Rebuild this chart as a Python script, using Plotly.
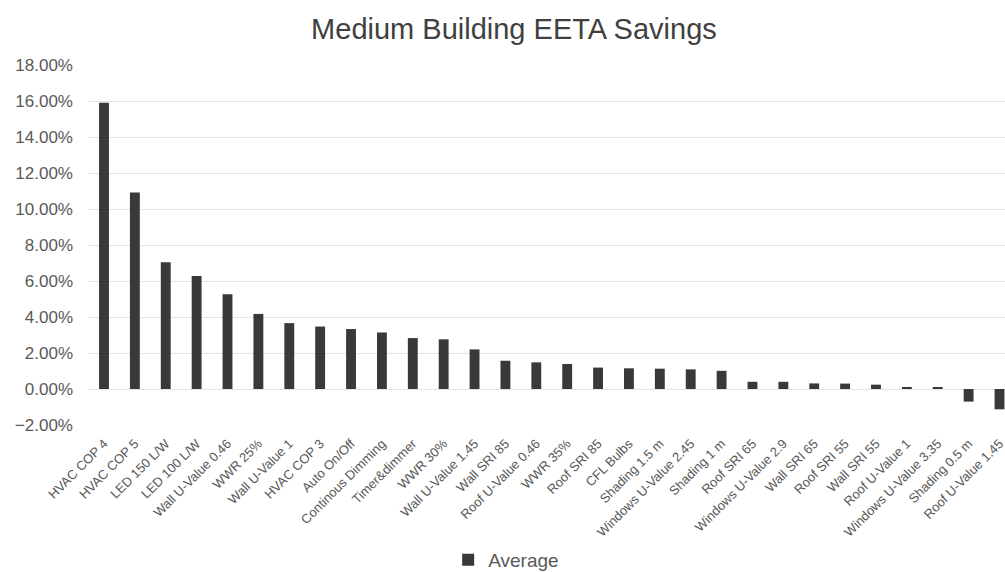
import plotly.graph_objects as go

categories = [
    "HVAC COP 4", "HVAC COP 5", "LED 150 L/W", "LED 100 L/W", "Wall U-Value 0.46",
    "WWR 25%", "Wall U-Value 1", "HVAC COP 3", "Auto On/Off", "Continous Dimming",
    "Timer&dimmer", "WWR 30%", "Wall U-Value 1.45", "Wall SRI 85", "Roof U-Value 0.46",
    "WWR 35%", "Roof SRI 85", "CFL Bulbs", "Shading 1.5 m", "Windows U-Value 2.45",
    "Shading 1 m", "Roof SRI 65", "Windows U-Value 2.9", "Wall SRI 65", "Roof SRI 55",
    "Wall SRI 55", "Roof U-Value 1", "Windows U-Value 3.35", "Shading 0.5 m", "Roof U-Value 1.45",
]
average = [
    0.1590, 0.1091, 0.0704, 0.0628, 0.0526,
    0.0417, 0.0366, 0.0347, 0.0333, 0.0314,
    0.0283, 0.0276, 0.0220, 0.0157, 0.0148,
    0.0139, 0.0119, 0.0115, 0.0113, 0.0109,
    0.0101, 0.0040, 0.0040, 0.0031, 0.0030,
    0.0024, 0.0007, 0.0007, -0.0070, -0.0113,
]
y_ticks = [-0.02, 0.0, 0.02, 0.04, 0.06, 0.08, 0.10, 0.12, 0.14, 0.16, 0.18]

FONT = "Liberation Sans, Arial, sans-serif"
GREY = "#595959"
BAR = "#3b3838"

fig = go.Figure()
fig.add_trace(go.Bar(
    x=list(range(len(categories))), y=average, name="Average",
    marker=dict(color=BAR, line=dict(width=0)), width=0.32,
))

fig.update_layout(
    width=1005, height=572,
    margin=dict(l=88, r=0, t=65, b=147, autoexpand=False),
    paper_bgcolor="white", plot_bgcolor="white",
    font=dict(family=FONT, color=GREY),
    title=dict(text="Medium Building EETA Savings", x=0.5114, xanchor="center",
               y=0.950, yanchor="middle", font=dict(size=29, color="#404040", family=FONT)),
    showlegend=True,
    legend=dict(orientation="h", x=0.456, xanchor="center", y=-0.375, yanchor="middle",
                font=dict(size=19, color=GREY, family=FONT)),
)
fig.update_xaxes(
    tickmode="array", tickvals=list(range(len(categories))), ticktext=categories,
    tickangle=-45, tickfont=dict(size=13, color=GREY, family=FONT),
    range=[-0.518, 29.178], showgrid=False, zeroline=False, showline=False,
    ticks="outside", ticklen=5, tickcolor="rgba(0,0,0,0)",
    automargin=False, ticklabeloverflow="allow",
)
fig.update_yaxes(
    range=[-0.02, 0.18], tickvals=y_ticks, tickformat=".2%",
    tickfont=dict(size=17, color=GREY, family=FONT),
    showgrid=True, gridcolor="#e3e3e3", gridwidth=1,
    zeroline=True, zerolinecolor="#e3e3e3", zerolinewidth=1,
    showline=False, ticks="", ticklabelstandoff=14, automargin=False,
)

fig.write_html(
    "out.html",
    config={"displayModeBar": False},
    post_script="document.body.style.margin='0';document.body.style.overflow='hidden';",
)
